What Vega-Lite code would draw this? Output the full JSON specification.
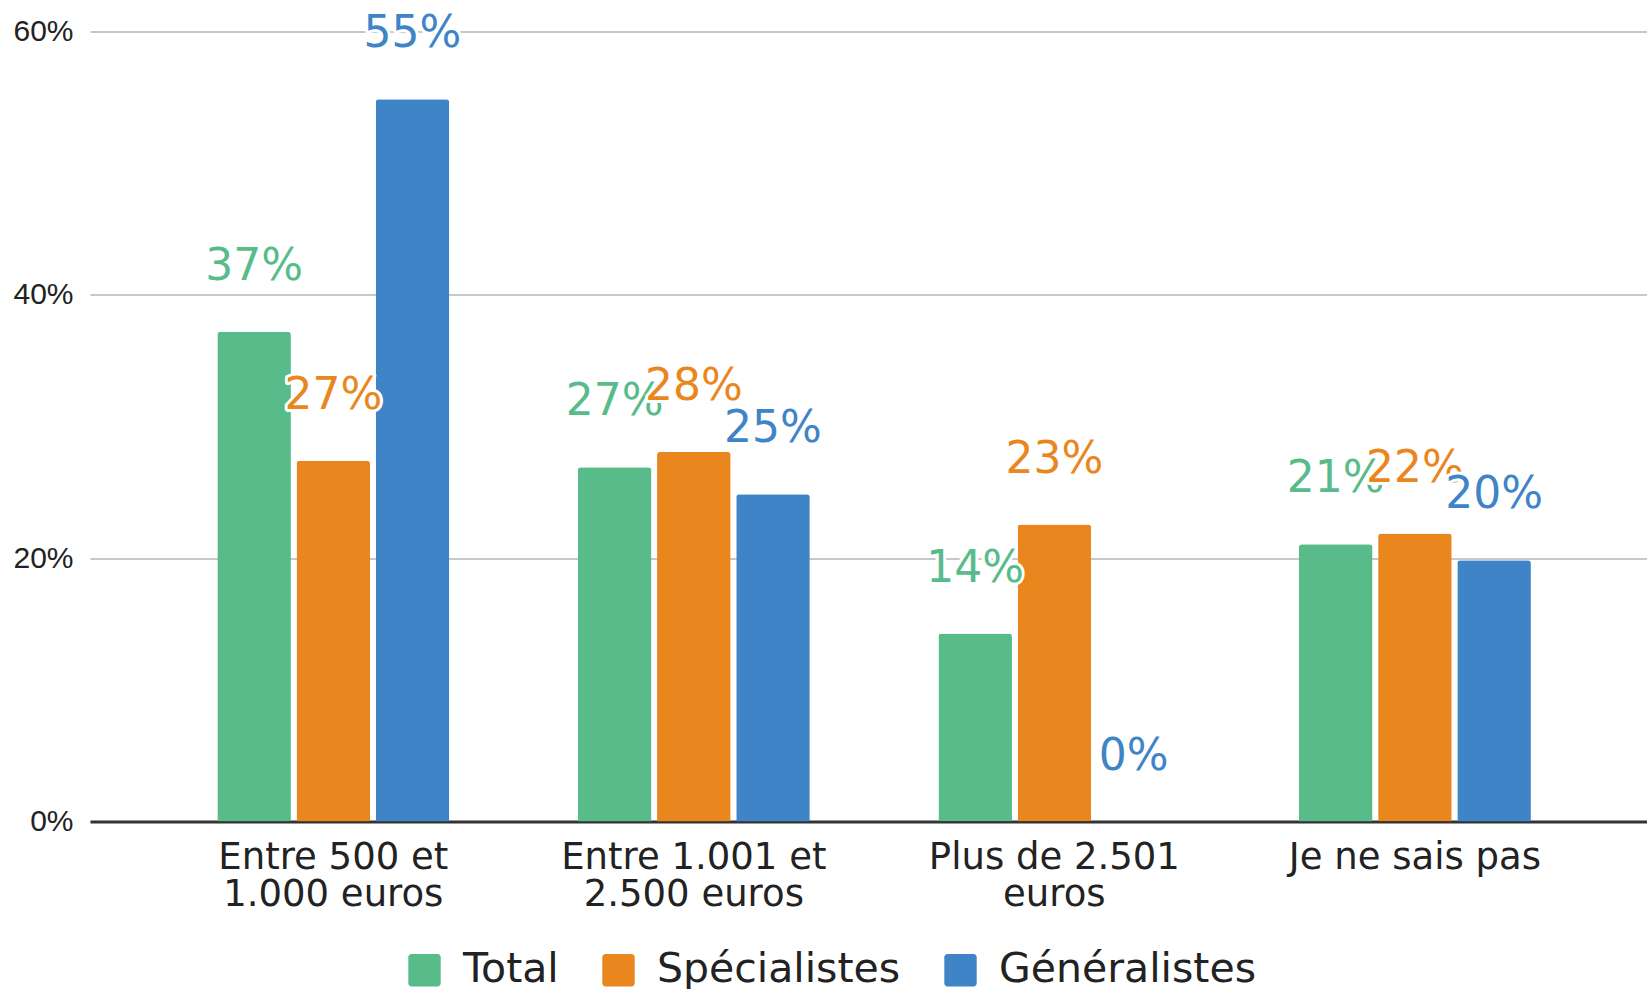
{
  "$schema": "https://vega.github.io/schema/vega-lite/v6.json",
  "width": 1557,
  "height": 790,
  "autosize": {"type": "none"},
  "padding": {"left": 90, "top": 31.5, "right": 0, "bottom": 167.5},
  "background": "white",
  "config": {
    "view": {"stroke": null},
    "font": "DejaVu Sans",
    "legend": {
      "orient": "none",
      "legendX": 314,
      "legendY": 918,
      "direction": "horizontal",
      "title": null,
      "padding": 0,
      "symbolType": "M -0.8,-1 H 0.8 A 0.2,0.2 0 0 1 1,-0.8 V 0.8 A 0.2,0.2 0 0 1 0.8,1 H -0.8 A 0.2,0.2 0 0 1 -1,0.8 V -0.8 A 0.2,0.2 0 0 1 -0.8,-1 Z",
      "symbolSize": 1050,
      "symbolStrokeWidth": 0,
      "symbolOpacity": 1,
      "labelFont": "DejaVu Sans",
      "labelFontSize": 41,
      "labelColor": "#222222",
      "labelOffset": 18,
      "columnPadding": 39,
      "labelLimit": 400
    }
  },
  "data": {
    "values": [
      {"categorie": "Entre 500 et 1.000 euros", "serie": "Total", "valeur": 0.372},
      {"categorie": "Entre 500 et 1.000 euros", "serie": "Spécialistes", "valeur": 0.274},
      {"categorie": "Entre 500 et 1.000 euros", "serie": "Généralistes", "valeur": 0.5485},
      {"categorie": "Entre 1.001 et 2.500 euros", "serie": "Total", "valeur": 0.269},
      {"categorie": "Entre 1.001 et 2.500 euros", "serie": "Spécialistes", "valeur": 0.2807},
      {"categorie": "Entre 1.001 et 2.500 euros", "serie": "Généralistes", "valeur": 0.2486},
      {"categorie": "Plus de 2.501 euros", "serie": "Total", "valeur": 0.1427},
      {"categorie": "Plus de 2.501 euros", "serie": "Spécialistes", "valeur": 0.2255},
      {"categorie": "Plus de 2.501 euros", "serie": "Généralistes", "valeur": 0},
      {"categorie": "Je ne sais pas", "serie": "Total", "valeur": 0.2106},
      {"categorie": "Je ne sais pas", "serie": "Spécialistes", "valeur": 0.2187},
      {"categorie": "Je ne sais pas", "serie": "Généralistes", "valeur": 0.1985}
    ]
  },
  "encoding": {
    "x": {
      "field": "categorie",
      "type": "nominal",
      "sort": ["Entre 500 et 1.000 euros", "Entre 1.001 et 2.500 euros", "Plus de 2.501 euros", "Je ne sais pas"],
      "scale": {"paddingInner": 0.3567, "paddingOuter": 0.3376, "align": 0.523},
      "title": null,
      "axis": {
        "labelAngle": 0,
        "labelFont": "DejaVu Sans",
        "labelFontSize": 37,
        "labelColor": "#222222",
        "labelLineHeight": 37,
        "labelPadding": 18,
        "labelLimit": 500,
        "labelOverlap": false,
        "labelBound": false,
        "ticks": false,
        "domainColor": "#333333",
        "domainWidth": 3,
        "grid": false,
        "labelExpr": "datum.value == 'Entre 500 et 1.000 euros' ? ['Entre 500 et', '1.000 euros'] : datum.value == 'Entre 1.001 et 2.500 euros' ? ['Entre 1.001 et', '2.500 euros'] : datum.value == 'Plus de 2.501 euros' ? ['Plus de 2.501', 'euros'] : datum.value"
      }
    },
    "xOffset": {
      "field": "serie",
      "type": "nominal",
      "scale": {"domain": ["Total", "Spécialistes", "Généralistes"], "paddingInner": 0.0707}
    },
    "y": {
      "field": "valeur",
      "type": "quantitative",
      "scale": {"domain": [0, 0.6]},
      "title": null,
      "axis": {
        "values": [0, 0.2, 0.4, 0.6],
        "format": ".0%",
        "labelFont": "Liberation Sans",
        "labelFontSize": 30,
        "labelColor": "#222222",
        "labelPadding": 17,
        "ticks": false,
        "domain": false,
        "grid": true,
        "gridColor": "#c8c8c8",
        "gridWidth": 2
      }
    }
  },
  "layer": [
    {
      "mark": {"type": "bar", "cornerRadiusTopLeft": 3, "cornerRadiusTopRight": 3},
      "encoding": {
        "color": {
          "field": "serie",
          "type": "nominal",
          "scale": {"domain": ["Total", "Spécialistes", "Généralistes"], "range": ["#57bb8a", "#e9871e", "#3e84c6"]},
          "legend": {}
        }
      }
    },
    {
      "transform": [{"filter": "datum.serie == 'Total'"}],
      "mark": {"type": "text", "fontSize": 44, "font": "DejaVu Sans", "baseline": "alphabetic", "dy": -52, "fill": "white", "stroke": "white", "strokeWidth": 6, "strokeJoin": "round"},
      "encoding": {"text": {"field": "valeur", "type": "quantitative", "format": ".0%"}}
    },
    {
      "transform": [{"filter": "datum.serie == 'Total'"}],
      "mark": {"type": "text", "fontSize": 44, "font": "DejaVu Sans", "baseline": "alphabetic", "dy": -52},
      "encoding": {
        "text": {"field": "valeur", "type": "quantitative", "format": ".0%"},
        "color": {"field": "serie", "type": "nominal"}
      }
    },
    {
      "transform": [{"filter": "datum.serie == 'Spécialistes'"}],
      "mark": {"type": "text", "fontSize": 44, "font": "DejaVu Sans", "baseline": "alphabetic", "dy": -52, "fill": "white", "stroke": "white", "strokeWidth": 6, "strokeJoin": "round"},
      "encoding": {"text": {"field": "valeur", "type": "quantitative", "format": ".0%"}}
    },
    {
      "transform": [{"filter": "datum.serie == 'Spécialistes'"}],
      "mark": {"type": "text", "fontSize": 44, "font": "DejaVu Sans", "baseline": "alphabetic", "dy": -52},
      "encoding": {
        "text": {"field": "valeur", "type": "quantitative", "format": ".0%"},
        "color": {"field": "serie", "type": "nominal"}
      }
    },
    {
      "transform": [{"filter": "datum.serie == 'Généralistes'"}],
      "mark": {"type": "text", "fontSize": 44, "font": "DejaVu Sans", "baseline": "alphabetic", "dy": -52, "fill": "white", "stroke": "white", "strokeWidth": 6, "strokeJoin": "round"},
      "encoding": {"text": {"field": "valeur", "type": "quantitative", "format": ".0%"}}
    },
    {
      "transform": [{"filter": "datum.serie == 'Généralistes'"}],
      "mark": {"type": "text", "fontSize": 44, "font": "DejaVu Sans", "baseline": "alphabetic", "dy": -52},
      "encoding": {
        "text": {"field": "valeur", "type": "quantitative", "format": ".0%"},
        "color": {"field": "serie", "type": "nominal"}
      }
    }
  ]
}
